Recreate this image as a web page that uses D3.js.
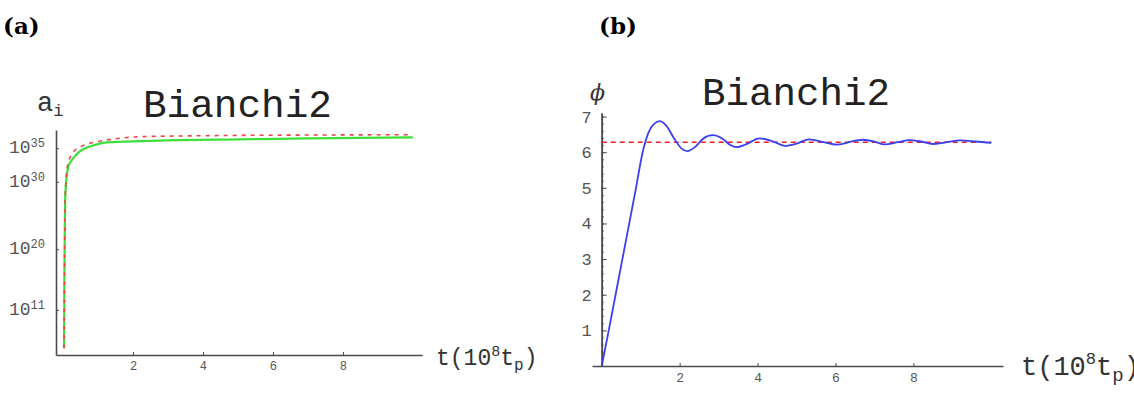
<!DOCTYPE html>
<html>
<head>
<meta charset="utf-8">
<script src="https://cdn.jsdelivr.net/npm/d3@7"></script>
<style>
  body { margin: 0; background: #fff; }
  svg { display: block; }
</style>
</head>
<body>
<script>
// panel (a): scale factors a_i, values stored as log10
const tA = [0.03, 0.04, 0.05, 0.06, 0.09, 0.14, 0.22, 0.34, 0.5, 0.69, 1.0, 1.14, 2, 3, 5, 7, 10];
const logGreen = [5.3, 15, 22, 27, 30, 32, 33, 33.8, 34.6, 35.1, 35.6, 35.8, 36.0, 36.15, 36.3, 36.45, 36.6];
const tRed = [0.03, 0.04, 0.05, 0.06, 0.09, 0.14, 0.22, 0.34, 0.5, 0.69, 1.0, 1.5, 2.2, 4, 7, 10];
const logRed = [5.3, 15, 22, 27, 30.5, 32.7, 33.8, 34.7, 35.2, 35.6, 36.0, 36.4, 36.7, 36.85, 36.95, 37.0];
const xTicksA = [2, 4, 6, 8];
const yTicksA = [11, 20, 30, 35];

// panel (b): scalar field phi
const tB = [0, 0.18, 0.53, 0.88, 1.05, 1.2, 1.35, 1.49, 1.65, 1.85, 2.05, 2.2, 2.4, 2.6, 2.85, 3.1, 3.3, 3.46,
  3.7, 4.05, 4.4, 4.7, 5.0, 5.33, 5.7, 6.03, 6.35, 6.7, 7.0, 7.26, 7.6, 7.9, 8.2, 8.5, 8.8, 9.2, 9.6, 10];
const phi = [0, 1, 3, 5, 6, 6.55, 6.8, 6.87, 6.75, 6.4, 6.1, 6.03, 6.15, 6.38, 6.48, 6.38, 6.2, 6.14,
  6.22, 6.39, 6.3, 6.18, 6.24, 6.36, 6.28, 6.21, 6.28, 6.35, 6.3, 6.22, 6.28, 6.34, 6.3, 6.23, 6.27, 6.33, 6.3, 6.26];
const tLevel = [0, 10];
const phiLevel = [6.28, 6.28];
const xTicksB = [2, 4, 6, 8];
const yTicksB = [1, 2, 3, 4, 5, 6, 7];

const mono = "'Liberation Mono', 'Courier New', monospace";
const axisColor = "#4a4a4a";

const svg = d3.select("body").append("svg")
    .attr("width", 1134)
    .attr("height", 396);

const styleAxis = (g, fs) => {
    g.select(".domain").attr("stroke", axisColor).attr("stroke-width", 1.6);
    g.selectAll(".tick line").attr("stroke", axisColor).attr("stroke-width", 1);
    g.selectAll(".tick text").attr("fill", "#555").style("font-family", mono).style("font-size", fs + "px");
};

// panel labels
svg.append("text").attr("x", 3).attr("y", 34).text("(a)")
    .style("font-family", "'DejaVu Serif', serif").style("font-weight", "bold").style("font-size", "23px");
svg.append("text").attr("x", 599).attr("y", 34).text("(b)")
    .style("font-family", "'DejaVu Serif', serif").style("font-weight", "bold").style("font-size", "23px");

// ---------- panel (a) ----------
const xA = d3.scaleLinear().domain([-0.2, 10.26]).range([56, 422]);
const yA = d3.scaleLog().domain([Math.pow(10, 4.3), Math.pow(10, 37.7)]).range([355, 130]);

const gxA = svg.append("g")
    .attr("transform", "translate(0,355)")
    .call(d3.axisBottom(xA).tickValues(xTicksA).tickSize(-3).tickSizeOuter(0).tickPadding(6));
styleAxis(gxA, 12);

const gyA = svg.append("g")
    .attr("transform", "translate(56,0)")
    .call(d3.axisLeft(yA).tickValues(yTicksA.map(e => Math.pow(10, e))).tickSize(-3).tickSizeOuter(0).tickPadding(11));
styleAxis(gyA, 18);
gyA.selectAll(".tick text").each(function (d) {
    const t = d3.select(this);
    const e = Math.round(Math.log10(d));
    t.text("").attr("dy", "0.25em");
    t.append("tspan").text("10");
    t.append("tspan").attr("dy", "-0.5em").style("font-size", "12px").text(e);
});

const lineA = d3.line()
    .x(d => xA(d[0]))
    .y(d => yA(Math.pow(10, d[1])))
    .curve(d3.curveMonotoneX);

svg.append("path")
    .attr("d", lineA(tA.map((t, i) => [t, logGreen[i]])))
    .attr("fill", "none")
    .attr("stroke", "#3de03a")
    .attr("stroke-width", 2.2);

svg.append("path")
    .attr("d", lineA(tRed.map((t, i) => [t, logRed[i]])))
    .attr("fill", "none")
    .attr("stroke", "#ee4444")
    .attr("stroke-width", 1.6)
    .attr("stroke-dasharray", "4,5");

svg.append("text").attr("x", 143).attr("y", 117)
    .attr("textLength", 189).attr("lengthAdjust", "spacingAndGlyphs")
    .style("font-family", mono).style("font-size", "38px").attr("fill", "#222")
    .text("Bianchi2");

const aLab = svg.append("text").attr("x", 37).attr("y", 111)
    .style("font-family", mono).style("font-size", "27px").attr("fill", "#333");
aLab.append("tspan").text("a");
aLab.append("tspan").attr("dy", 5).style("font-size", "17px").text("i");

const tLabA = svg.append("text").attr("x", 436).attr("y", 365)
    .style("font-family", mono).style("font-size", "23px").attr("fill", "#333");
tLabA.append("tspan").text("t(10");
tLabA.append("tspan").attr("dy", -9).style("font-size", "15px").text("8");
tLabA.append("tspan").attr("dy", 9).text("t");
tLabA.append("tspan").attr("dy", 5).style("font-size", "16px").text("p");
tLabA.append("tspan").attr("dy", -5).text(")");

// ---------- panel (b) ----------
const xB = d3.scaleLinear().domain([-0.25, 10.3]).range([592, 1003]);
const yB = d3.scaleLinear().domain([0, 7.1]).range([366, 113]);

const gxB = svg.append("g")
    .attr("transform", "translate(0,366)")
    .call(d3.axisBottom(xB).tickValues(xTicksB).tickSize(-3).tickSizeOuter(0).tickPadding(7));
styleAxis(gxB, 13);

const gyBminor = svg.append("g")
    .attr("transform", `translate(${xB(0)},0)`)
    .call(d3.axisLeft(yB).tickValues(d3.range(0, 7.05, 0.2)).tickSize(-2).tickSizeOuter(0).tickFormat(""));
styleAxis(gyBminor, 16);

const gyB = svg.append("g")
    .attr("transform", `translate(${xB(0)},0)`)
    .call(d3.axisLeft(yB).tickValues(yTicksB).tickSize(-5).tickSizeOuter(0).tickPadding(10));
styleAxis(gyB, 17);

const lineB = d3.line()
    .x(d => xB(d[0]))
    .y(d => yB(d[1]))
    .curve(d3.curveMonotoneX);

svg.append("path")
    .attr("d", lineB(tLevel.map((t, i) => [t, phiLevel[i]])))
    .attr("fill", "none")
    .attr("stroke", "#f02020")
    .attr("stroke-width", 1.6)
    .attr("stroke-dasharray", "5,4");

svg.append("path")
    .attr("d", lineB(tB.map((t, i) => [t, phi[i]])))
    .attr("fill", "none")
    .attr("stroke", "#3a3ff0")
    .attr("stroke-width", 1.8);

svg.append("text").attr("x", 702).attr("y", 105)
    .attr("textLength", 188).attr("lengthAdjust", "spacingAndGlyphs")
    .style("font-family", mono).style("font-size", "38px").attr("fill", "#222")
    .text("Bianchi2");

svg.append("text").attr("x", 590).attr("y", 100)
    .style("font-family", "'DejaVu Serif', serif").style("font-style", "italic")
    .style("font-size", "22px").attr("fill", "#333")
    .text("ϕ");

// the reference itself runs this label past the right edge
const tLabB = svg.append("text").attr("x", 1021).attr("y", 375)
    .style("font-family", mono).style("font-size", "27px").attr("fill", "#333");
tLabB.append("tspan").text("t(10");
tLabB.append("tspan").attr("dy", -11).style("font-size", "17px").text("8");
tLabB.append("tspan").attr("dy", 11).text("t");
tLabB.append("tspan").attr("dy", 6).style("font-size", "19px").text("p");
tLabB.append("tspan").attr("dy", -6).text(")");
</script>
</body>
</html>
